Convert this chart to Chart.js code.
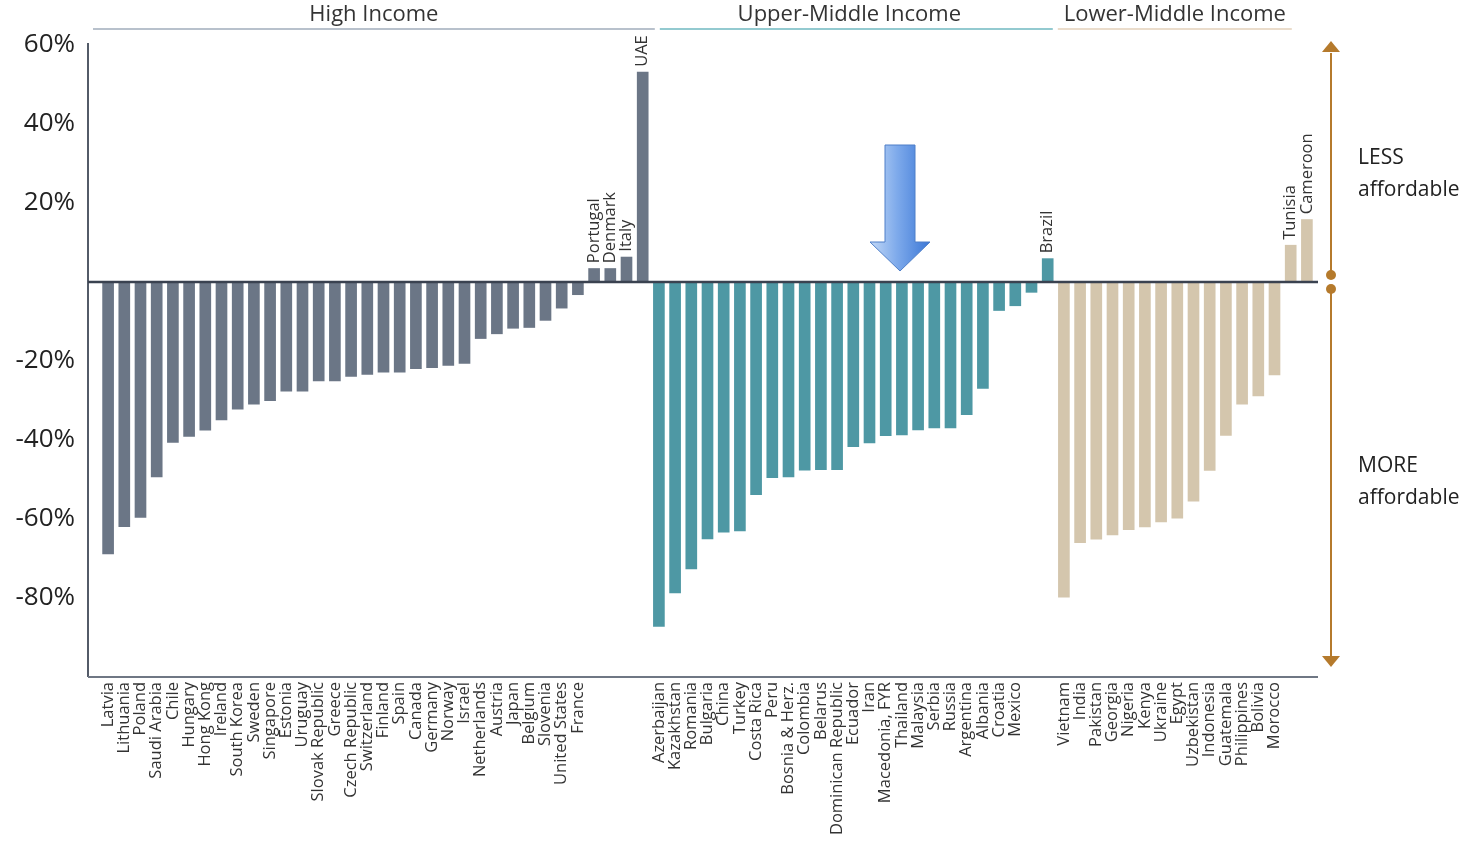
<!DOCTYPE html>
<html>
<head>
<meta charset="utf-8">
<script src="https://cdn.jsdelivr.net/npm/chart.js@4.4.1/dist/chart.umd.min.js"></script>
<style>
html,body{margin:0;padding:0;background:#fff;}
#wrap{width:1467px;height:842px;position:relative;}
</style>
</head>
<body>
<div id="wrap"><canvas id="c" width="1467" height="842"></canvas></div>
<script>
// ---- DATA ----
const highIncomeCountries = ['Latvia','Lithuania','Poland','Saudi Arabia','Chile','Hungary','Hong Kong','Ireland','South Korea','Sweden','Singapore','Estonia','Uruguay','Slovak Republic','Greece','Czech Republic','Switzerland','Finland','Spain','Canada','Germany','Norway','Israel','Netherlands','Austria','Japan','Belgium','Slovenia','United States','France','Portugal','Denmark','Italy','UAE'];
const highIncomeValues = [-68.9,-62.0,-59.7,-49.4,-40.7,-39.2,-37.6,-35.0,-32.3,-31.0,-30.1,-27.7,-27.7,-25.1,-25.1,-24.0,-23.5,-22.9,-22.9,-22.0,-21.8,-21.2,-20.7,-14.4,-13.2,-11.8,-11.6,-9.8,-6.7,-3.3,3.5,3.5,6.4,53.2];

const upperMiddleCountries = ['Azerbaijan','Kazakhstan','Romania','Bulgaria','China','Turkey','Costa Rica','Peru','Bosnia & Herz.','Colombia','Belarus','Dominican Republic','Ecuador','Iran','Macedonia, FYR','Thailand','Malaysia','Serbia','Russia','Argentina','Albania','Croatia','Mexico','','Brazil'];
const upperMiddleValues = [-87.3,-78.8,-72.7,-65.1,-63.4,-63.1,-53.9,-49.6,-49.4,-47.7,-47.6,-47.6,-41.8,-40.8,-39.0,-38.8,-37.5,-37.0,-37.0,-33.7,-27.0,-7.3,-6.1,-2.7,6.0];

const lowerMiddleCountries = ['Vietnam','India','Pakistan','Georgia','Nigeria','Kenya','Ukraine','Egypt','Uzbekistan','Indonesia','Guatemala','Philippines','Bolivia','Morocco','Tunisia','Cameroon'];
const lowerMiddleValues = [-79.9,-66.1,-65.2,-64.1,-62.8,-62.1,-60.8,-59.9,-55.6,-47.8,-38.9,-31.0,-28.9,-23.6,9.4,15.9];

const groupTitles = ['High Income','Upper-Middle Income','Lower-Middle Income'];
const yMin = -100, yMax = 60, yStep = 20;
const scaleNotes = [['LESS','affordable'],['MORE','affordable']];

// ---- BUILD ----
const allLabels = highIncomeCountries.concat(upperMiddleCountries, lowerMiddleCountries);
const allValues = highIncomeValues.concat(upperMiddleValues, lowerMiddleValues);
const nH = highIncomeValues.length, nU = upperMiddleValues.length, nL = lowerMiddleValues.length;
const pad = (arr, before, after) => Array(before).fill(null).concat(arr, Array(after).fill(null));

const FONT = '"Open Sans"';
const LABEL_SIZE = 16.5;

const decor = {
  id: 'decor',
  afterDatasetsDraw(chart) {
    const {ctx, chartArea: a, scales: {x, y}} = chart;
    const y0 = y.getPixelForValue(0);
    const half = (x.getPixelForValue(1) - x.getPixelForValue(0)) / 2;
    const axL = a.left - 12, axR = a.right + 3;
    const line = (x1, y1, x2, y2) => { ctx.beginPath(); ctx.moveTo(x1, y1); ctx.lineTo(x2, y2); ctx.stroke(); };
    ctx.save();
    // axes
    ctx.lineWidth = 2;
    ctx.strokeStyle = '#535b68';
    line(axL, a.top - 2, axL, a.bottom);
    ctx.strokeStyle = '#6f7784';
    line(axL, a.bottom, axR, a.bottom);
    ctx.strokeStyle = '#3a4250';
    ctx.lineWidth = 2.5;
    line(axL, y0, axR, y0);

    // labels above positive bars
    ctx.fillStyle = '#333';
    ctx.font = LABEL_SIZE + 'px ' + FONT;
    ctx.textAlign = 'left';
    ctx.textBaseline = 'middle';
    allValues.forEach((v, i) => {
      if (v > 0) {
        const px = x.getPixelForValue(i);
        const py = y.getPixelForValue(v) - 5;
        ctx.save();
        ctx.translate(px, py);
        ctx.rotate(-Math.PI / 2);
        ctx.fillText(allLabels[i], 0, 0);
        ctx.restore();
      }
    });

    // group headers
    const groups = [
      [a.left - 7, x.getPixelForValue(nH - 1) + half + 4, '#b8c1cc', 0],
      [x.getPixelForValue(nH) - half + 9, x.getPixelForValue(nH + nU - 1) + half - 3, '#93cad0', -7],
      [x.getPixelForValue(nH + nU) - half + 2, x.getPixelForValue(nH + nU + nL - 2) + half - 7, '#eadccb', 0]
    ];
    ctx.font = '22px ' + FONT;
    ctx.textAlign = 'center';
    ctx.textBaseline = 'middle';
    groups.forEach((g, k) => {
      ctx.strokeStyle = g[2];
      ctx.lineWidth = 2;
      line(g[0], 29, g[1], 29);
      ctx.fillStyle = '#333';
      ctx.fillText(groupTitles[k], (g[0] + g[1]) / 2 + g[3], 15);
    });

    // right brown double arrow
    const ax = a.right + 16;
    const brown = '#b57a2c';
    ctx.strokeStyle = brown; ctx.fillStyle = brown; ctx.lineWidth = 2;
    line(ax, a.top + 8, ax, y0 - 8);
    ctx.beginPath(); ctx.moveTo(ax, a.top - 4); ctx.lineTo(ax + 9, a.top + 7); ctx.lineTo(ax - 9, a.top + 7); ctx.closePath(); ctx.fill();
    ctx.beginPath(); ctx.arc(ax, y0 - 7, 5, 0, Math.PI * 2); ctx.fill();
    ctx.beginPath(); ctx.arc(ax, y0 + 7, 5, 0, Math.PI * 2); ctx.fill();
    line(ax, y0 + 7, ax, a.bottom - 20);
    ctx.beginPath(); ctx.moveTo(ax, a.bottom - 10); ctx.lineTo(ax + 9, a.bottom - 21); ctx.lineTo(ax - 9, a.bottom - 21); ctx.closePath(); ctx.fill();

    // side notes
    ctx.fillStyle = '#222';
    ctx.font = '21px ' + FONT;
    ctx.textAlign = 'left';
    ctx.textBaseline = 'middle';
    const tx = a.right + 43;
    ctx.fillText(scaleNotes[0][0], tx, 158);
    ctx.fillText(scaleNotes[0][1], tx, 190);
    ctx.fillText(scaleNotes[1][0], tx, 466);
    ctx.fillText(scaleNotes[1][1], tx, 498);

    // blue highlight arrow
    const bx = 900, bTop = 145, bNeck = 242, bTip = y0 - 11;
    const grad = ctx.createLinearGradient(bx - 30, 0, bx + 30, 0);
    grad.addColorStop(0, '#c2d8f6');
    grad.addColorStop(0.45, '#7eaaeb');
    grad.addColorStop(1, '#3b77d6');
    ctx.fillStyle = grad;
    ctx.strokeStyle = '#4f7fc8';
    ctx.lineWidth = 1;
    ctx.beginPath();
    ctx.moveTo(bx - 15, bTop); ctx.lineTo(bx + 15, bTop); ctx.lineTo(bx + 15, bNeck);
    ctx.lineTo(bx + 30, bNeck); ctx.lineTo(bx, bTip); ctx.lineTo(bx - 30, bNeck);
    ctx.lineTo(bx - 15, bNeck); ctx.closePath();
    ctx.fill(); ctx.stroke();
    ctx.restore();
  }
};

new Chart(document.getElementById('c'), {
  type: 'bar',
  data: {
    labels: allLabels,
    datasets: [
      {data: pad(highIncomeValues, 0, nU + nL), backgroundColor: '#6b7686'},
      {data: pad(upperMiddleValues, nH, nL), backgroundColor: '#4e98a4'},
      {data: pad(lowerMiddleValues, nH + nU, 0), backgroundColor: '#d4c6ad'}
    ]
  },
  options: {
    responsive: false,
    animation: false,
    events: [],
    layout: {padding: {top: 45, right: 152, left: 0, bottom: 0}, autoPadding: false},
    datasets: {bar: {grouped: false, categoryPercentage: 1, barPercentage: 0.72}},
    plugins: {legend: {display: false}, tooltip: {enabled: false}},
    scales: {
      x: {
        grid: {display: false, drawTicks: false},
        border: {display: false},
        ticks: {
          autoSkip: false, minRotation: 90, maxRotation: 90, padding: 5,
          font: {family: FONT, size: LABEL_SIZE}, color: '#333',
          callback: (v, i) => allValues[i] > 0 ? '' : allLabels[i]
        },
        afterFit: s => { s.height = 165; }
      },
      y: {
        min: yMin, max: yMax,
        grid: {display: false, drawTicks: false},
        border: {display: false},
        ticks: {
          stepSize: yStep, padding: 25,
          font: {family: FONT, size: 26}, color: '#222',
          callback: v => (v === 0 || v === yMin) ? '' : v + '%'
        },
        afterFit: s => { s.width = 100; }
      }
    }
  },
  plugins: [decor]
});
</script>
</body>
</html>
